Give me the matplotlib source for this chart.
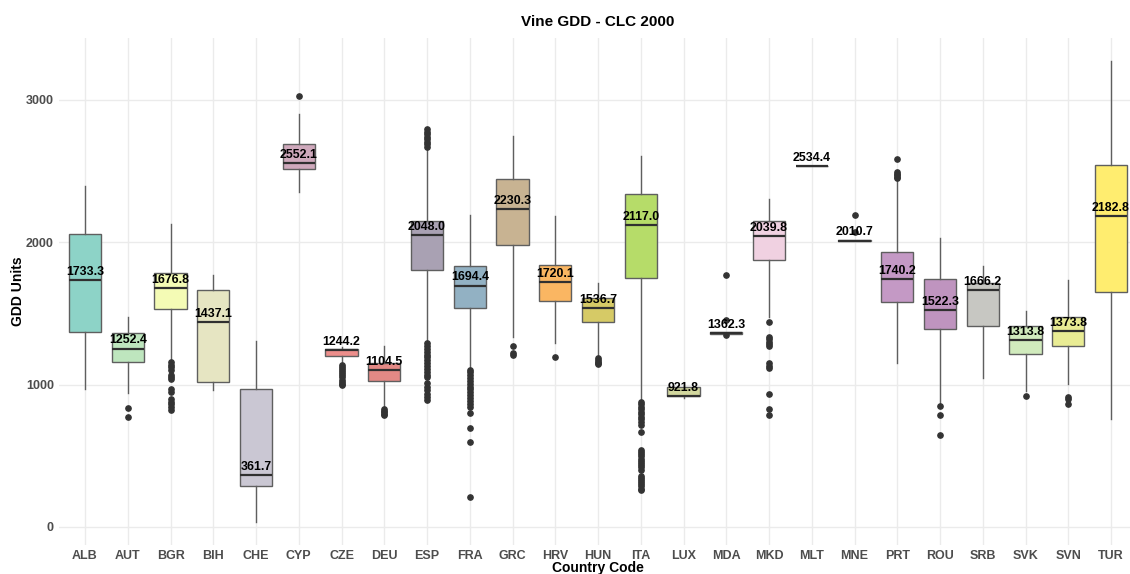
import matplotlib
matplotlib.use("Agg")

import numpy as np
import matplotlib.pyplot as plt
from matplotlib.colors import LinearSegmentedColormap

plt.rcParams["font.family"] = ["Liberation Sans", "DejaVu Sans"]

# data
countries = ["ALB", "AUT", "BGR", "BIH", "CHE", "CYP", "CZE", "DEU", "ESP", "FRA",
             "GRC", "HRV", "HUN", "ITA", "LUX", "MDA", "MKD", "MLT", "MNE", "PRT",
             "ROU", "SRB", "SVK", "SVN", "TUR"]
medians = [1733.3, 1252.4, 1676.8, 1437.1, 361.7, 2552.1, 1244.2, 1104.5, 2048.0, 1694.4,
           2230.3, 1720.1, 1536.7, 2117.0, 921.8, 1362.3, 2039.8, 2534.4, 2010.7, 1740.2,
           1522.3, 1666.2, 1313.8, 1373.8, 2182.8]
q1 = [1366, 1158, 1530, 1015, 290, 2512, 1200, 1025, 1801, 1535,
      1979, 1588, 1439, 1750, 919, 1358, 1871, 2534.4, 2008, 1581,
      1387, 1413, 1216, 1270, 1649]
q3 = [2056, 1359, 1780, 1663, 968, 2688, 1249, 1153, 2147, 1832,
      2440, 1839, 1605, 2335, 980, 1366, 2147, 2534.4, 2014, 1928,
      1740, 1710, 1411, 1476, 2543]
whislo = [966, 938, 1180, 961, 37, 2349, 1150, 835, 1312, 1107,
          1336, 1289, 1207, 891, 903, 1356, 1476, 2534.4, 2008, 1153,
          868, 1043, 956, 1003, 756]
whishi = [2395, 1476, 2126, 1766, 1305, 2900, 1262, 1272, 2646, 2189,
          2746, 2185, 1710, 2606, 980, 1368, 2302, 2534.4, 2014, 2435,
          2030, 1834, 1516, 1733, 3270]
outliers = [
    [],
    [833, 774],
    [1160, 1140, 1120, 1100, 1070, 1050, 1040, 970, 950, 900, 880, 860, 840, 821],
    [],
    [],
    [3027],
    [1137, 1125, 1110, 1095, 1080, 1065, 1050, 1035, 1020, 1005, 996],
    [826, 815, 805, 795, 786],
    [2791, 2775, 2760, 2740, 2720, 2700, 2685, 2669,
     1289, 1270, 1250, 1230, 1210, 1190, 1170, 1150, 1130, 1110, 1090, 1070, 1055,
     1010, 985, 960, 935, 910, 891],
    [1102, 1085, 1065, 1045, 1025, 1005, 985, 965, 945, 925, 905, 885, 865, 844,
     798, 697, 599, 208],
    [1272, 1223, 1205],
    [1195],
    [1184, 1170, 1160, 1150, 1142],
    [879, 862, 845, 828, 810, 792, 775, 758, 740, 716, 669,
     540, 525, 510, 495, 480, 465, 450, 435, 420, 400,
     358, 345, 330, 315, 300, 285, 270, 260],
    [],
    [1771, 1455, 1350],
    [1441, 1336, 1318, 1300, 1285, 1272, 1149, 1130, 1114, 933, 830, 786],
    [],
    [2189, 2072],
    [2582, 2489, 2480, 2470, 2458, 2447],
    [847, 786, 648],
    [],
    [921],
    [914, 898, 863],
    [],
]

# colorRampPalette of Set3 over all the countries
set3 = ["#8DD3C7", "#FFFFB3", "#BEBADA", "#FB8072", "#80B1D3", "#FDB462",
        "#B3DE69", "#FCCDE5", "#D9D9D9", "#BC80BD", "#CCEBC5", "#FFED6F"]
cmap = LinearSegmentedColormap.from_list("set3ramp", set3)
colors = [cmap(i / (len(countries) - 1)) for i in range(len(countries))]

stats = []
for i in range(len(countries)):
    stats.append({"med": medians[i], "q1": q1[i], "q3": q3[i],
                  "whislo": whislo[i], "whishi": whishi[i],
                  "fliers": outliers[i], "label": countries[i]})

fig = plt.figure(figsize=(11.3, 5.74), dpi=100)
ax = fig.add_axes([59.35 / 1130, (574 - 544.8) / 574, 1070.65 / 1130, (544.8 - 38) / 574])

positions = np.arange(1, len(countries) + 1)
bp = ax.bxp(stats, positions=positions, widths=0.75, patch_artist=True,
            boxprops=dict(edgecolor="#5f5f5f", linewidth=1.0),
            medianprops=dict(color="#303030", linewidth=1.6),
            whiskerprops=dict(color="#5f5f5f", linewidth=1.0),
            capprops=dict(linewidth=0),
            flierprops=dict(marker="o", markersize=3.8, markerfacecolor="#333333",
                            markeredgecolor="#333333", linestyle="none"))
for patch, c in zip(bp["boxes"], colors):
    patch.set_facecolor(c)

for p, m in zip(positions, medians):
    ax.annotate(f"{m:.1f}", (p, m), xytext=(0, 1.5), textcoords="offset points",
                ha="center", va="bottom", fontsize=8.9, fontweight="bold", color="black")

ax.set_xlim(0.4, 25.444)
ax.set_ylim(-125, 3432)
ax.set_yticks([0, 1000, 2000, 3000])
ax.set_xticks(positions)
ax.set_xticklabels(countries)
ax.grid(True, color="#ebebeb", linewidth=1.0)
ax.set_axisbelow(True)
for s in ax.spines.values():
    s.set_visible(False)
ax.tick_params(length=0, labelsize=9, labelcolor="#4d4d4d", pad=4)
for lbl in ax.get_xticklabels() + ax.get_yticklabels():
    lbl.set_fontweight("bold")

fig.text(598 / 1130, 1 - 22 / 574, "Vine GDD - CLC 2000", ha="center", va="center",
         fontsize=11, fontweight="bold")
fig.text(598 / 1130, 1 - 568 / 574, "Country Code", ha="center", va="center",
         fontsize=10, fontweight="bold")
fig.text(18 / 1130, 1 - 291 / 574, "GDD Units", ha="center", va="center",
         rotation=90, fontsize=10, fontweight="bold")

fig.savefig("out.png", dpi=100)
